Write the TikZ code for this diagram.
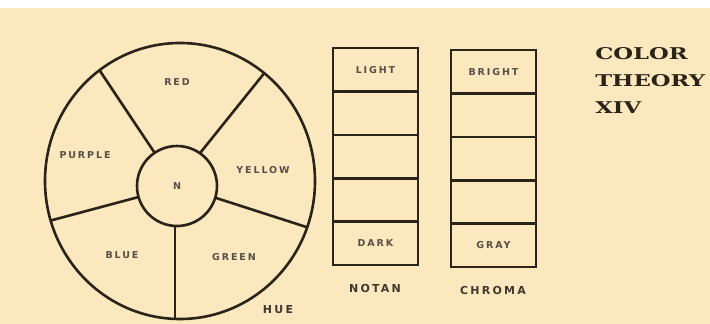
\documentclass[tikz,border=0pt]{standalone}
\usepackage{fontspec}
\setmainfont{DejaVu Sans}
\newfontfamily\lettering[LetterSpace=20]{DejaVu Sans}
\newfontfamily\titlefont[FakeStretch=1.4]{DejaVu Serif}
\usepackage{tikz}
\usetikzlibrary{positioning,shapes.geometric}
\definecolor{paper}{RGB}{252,232,190}
\definecolor{ink}{RGB}{42,35,24}

\begin{document}
\begin{tikzpicture}[x=1pt,y=-1pt,line width=2.6pt,color=ink]
\tikzset{
  lbl/.style={font=\lettering\bfseries\fontsize{9.5}{9.5}\selectfont,text=ink!80,inner sep=0pt},
  headword/.style={font=\lettering\bfseries\fontsize{11}{11}\selectfont,text=ink!90,inner sep=0pt},
  cell/.style={draw=ink,minimum width=85pt,minimum height=43.4pt,inner sep=0pt,outer sep=0pt,lbl}
}
\useasboundingbox (0,0) rectangle (710,324);
\fill[white] (0,0) rectangle (710,324);
\fill[paper] (0,8) rectangle (710,324);

% hue wheel
\node[ellipse,draw,minimum width=270pt,minimum height=276pt,inner sep=0pt,outer sep=0pt] (wheel) at (180,181) {};
\node[circle,draw,minimum size=80pt,inner sep=0pt,outer sep=0pt] (n) at (177,186) {};
\node[lbl] (nlbl) at (n) {N};
\draw (n.124) -- (wheel.126);
\draw (n.55) -- (wheel.52);
\draw (n.-17) -- (wheel.-20);
\draw (n.-93) -- (n.-93 |- wheel.south);
\draw (n.196) -- (wheel.197);

\node[lbl] (red) at (177,82) {RED};
\node[lbl] (purple) at (85,155) {PURPLE};
\node[lbl] (yellow) at (263,170) {YELLOW};
\node[lbl] (blue) at (122,255) {BLUE};
\node[lbl] (green) at (234,257) {GREEN};
\node[headword] (hue) at (278,310) {HUE};

% notan scale
\node[cell] (light) at (375.5,69.7) {LIGHT};
\node[cell,below=0pt of light] (notan2) {};
\node[cell,below=0pt of notan2] (notan3) {};
\node[cell,below=0pt of notan3] (notan4) {};
\node[cell,below=0pt of notan4] (dark) {DARK};
\node[headword] (notan) at (375,288) {NOTAN};

% chroma scale
\node[cell] (bright) at (493.5,71.7) {BRIGHT};
\node[cell,below=0pt of bright] (chroma2) {};
\node[cell,below=0pt of chroma2] (chroma3) {};
\node[cell,below=0pt of chroma3] (chroma4) {};
\node[cell,below=0pt of chroma4] (gray) {GRAY};
\node[headword] (chroma) at (493,290) {CHROMA};

\node[font=\titlefont\bfseries\fontsize{16.2}{27}\selectfont,align=left,anchor=north west,inner sep=0pt,text=ink] (title) at (594,46) {COLOR\\THEORY\\XIV};
\end{tikzpicture}
\end{document}
